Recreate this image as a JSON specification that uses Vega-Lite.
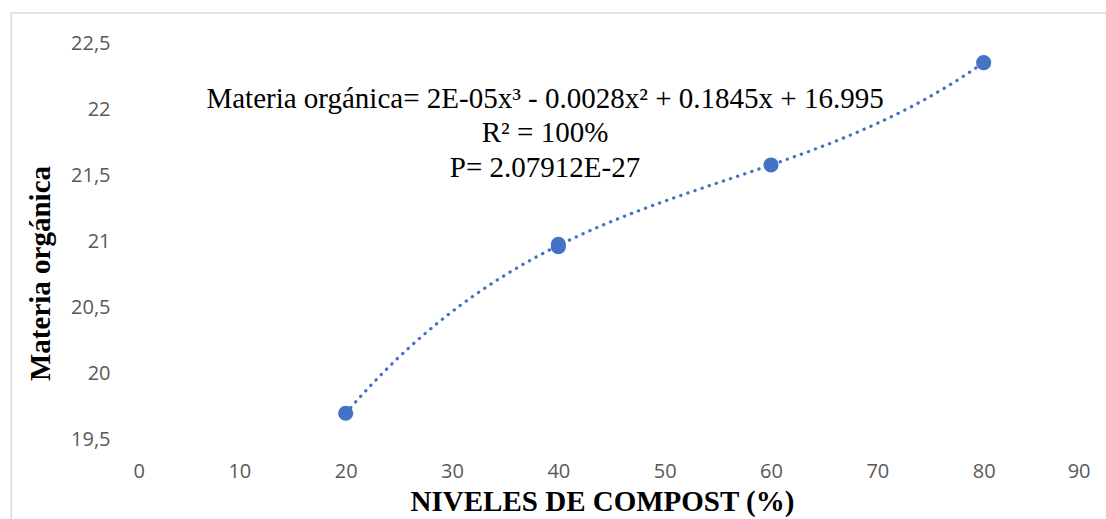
{
  "$schema": "https://vega.github.io/schema/vega-lite/v6.json",
  "width": 957,
  "height": 396,
  "autosize": {"type": "none"},
  "padding": {"left": 133, "top": 43, "right": 16, "bottom": 80},
  "background": "white",
  "config": {
    "view": {"stroke": null},
    "axis": {
      "labelFont": "Open Sans",
      "labelFontSize": 20,
      "labelColor": "#595959",
      "gridColor": "#d9d9d9",
      "gridWidth": 1.3,
      "ticks": false,
      "domain": false,
      "titleFont": "Liberation Serif",
      "titleFontWeight": "bold",
      "titleFontSize": 29,
      "titleColor": "#000000"
    }
  },
  "data": {
    "values": [
      {"nivel": 20, "mo": 19.695},
      {"nivel": 40, "mo": 20.957},
      {"nivel": 40, "mo": 20.975},
      {"nivel": 60, "mo": 21.576},
      {"nivel": 80, "mo": 22.351}
    ]
  },
  "layer": [
    {
      "data": {"values": [{}]},
      "mark": {"type": "rect", "fill": null, "stroke": "#d9d9d9", "strokeWidth": 1.5, "clip": false},
      "encoding": {
        "x": {"datum": -11.45, "type": "quantitative"},
        "x2": {"datum": 93},
        "y": {"datum": 22.727, "type": "quantitative"},
        "y2": {"datum": 18.7}
      }
    },
    {
      "transform": [
        {"regression": "mo", "on": "nivel", "method": "poly", "order": 3, "extent": [20, 80]}
      ],
      "mark": {"type": "line", "color": "#4472C4", "strokeWidth": 3.2, "strokeCap": "round", "strokeDash": [0.3, 7.2]},
      "encoding": {
        "x": {"field": "nivel", "type": "quantitative"},
        "y": {"field": "mo", "type": "quantitative"}
      }
    },
    {
      "mark": {"type": "point", "filled": true, "size": 230, "color": "#4472C4", "opacity": 1},
      "encoding": {
        "x": {
          "field": "nivel",
          "type": "quantitative",
          "scale": {"domain": [0, 90], "nice": false},
          "axis": {
            "values": [0, 10, 20, 30, 40, 50, 60, 70, 80, 90],
            "labelPadding": 22,
            "title": "NIVELES DE COMPOST (%)",
            "titleBaseline": "alphabetic",
            "titleX": 469,
            "titleY": 71
          }
        },
        "y": {
          "field": "mo",
          "type": "quantitative",
          "scale": {"domain": [19.5, 22.5], "zero": false, "nice": false},
          "axis": {
            "values": [19.5, 20, 20.5, 21, 21.5, 22, 22.5],
            "labelExpr": "replace(toString(datum.value), '.', ',')",
            "labelPadding": 23,
            "title": "Materia orgánica",
            "titleBaseline": "alphabetic",
            "titleX": -84,
            "titleY": 230
          }
        }
      }
    },
    {
      "data": {"values": [{}]},
      "mark": {
        "type": "text",
        "text": ["Materia orgánica= 2E-05x³ - 0.0028x² + 0.1845x + 16.995", "R² = 100%", "P= 2.07912E-27"],
        "font": "Liberation Serif",
        "fontSize": 29,
        "color": "#000000",
        "align": "center",
        "baseline": "alphabetic",
        "lineHeight": 34.5
      },
      "encoding": {
        "x": {"datum": 38.75, "type": "quantitative"},
        "y": {"datum": 22.008, "type": "quantitative"}
      }
    }
  ]
}
